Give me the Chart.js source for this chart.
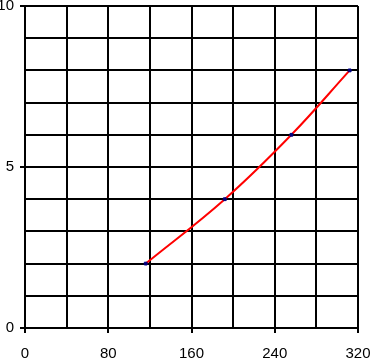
<!DOCTYPE html>
<html>
<head>
<meta charset="utf-8">
<script src="https://cdn.jsdelivr.net/npm/chart.js@4/dist/chart.umd.min.js"></script>
<style>
  html, body { margin: 0; padding: 0; background: #fff; }
  #wrap { width: 370px; height: 362px; }
</style>
</head>
<body>
<div id="wrap"><canvas id="chart"></canvas></div>
<script>
// data
var xValues = [116, 192, 256, 312];
var yValues = [2, 4, 6, 8];
var xLabelTicks = [0, 80, 160, 240, 320];
var yLabelTicks = [0, 5, 10];

var points = xValues.map(function(x, i) { return { x: x, y: yValues[i] }; });

var labelFont = { family: "'Liberation Sans Narrow', 'Liberation Sans', sans-serif", size: 15 };

function tickMark(list) {
  return function(ctx) {
    return list.indexOf(ctx.tick.value) >= 0 ? '#000' : 'rgba(0,0,0,0)';
  };
}

// fixed axis sizes, no extra room for overhanging labels
function fixSize(w, h) {
  return function(scale) {
    if (w) scale.width = w;
    if (h) scale.height = h;
    scale.paddingLeft = 0;
    scale.paddingRight = 0;
    scale.paddingTop = 0;
    scale.paddingBottom = 0;
  };
}

new Chart(document.getElementById('chart'), {
  type: 'scatter',
  data: {
    datasets: [{
      data: points,
      showLine: true,
      borderColor: '#ff0000',
      borderWidth: 2,
      tension: 0.4,
      pointStyle: 'rect',
      pointRadius: 2,
      pointBackgroundColor: '#000080',
      pointBorderColor: '#000080',
      pointBorderWidth: 1
    }]
  },
  options: {
    responsive: true,
    maintainAspectRatio: false,
    animation: false,
    layout: { padding: { top: 6, right: 12, left: 0, bottom: 0 } },
    plugins: { legend: { display: false }, tooltip: { enabled: false } },
    scales: {
      x: {
        type: 'linear',
        min: 0,
        max: 320,
        afterFit: fixSize(0, 34),
        ticks: {
          stepSize: 40,
          autoSkip: false,
          maxRotation: 0,
          padding: 12,
          color: '#000',
          font: labelFont,
          callback: function(v) { return xLabelTicks.indexOf(v) >= 0 ? v : ''; }
        },
        grid: { color: '#000', lineWidth: 2, tickLength: 5, tickColor: tickMark(xLabelTicks) },
        border: { color: '#000', width: 2 }
      },
      y: {
        type: 'linear',
        min: 0,
        max: 10,
        afterFit: fixSize(25, 0),
        ticks: {
          stepSize: 1,
          autoSkip: false,
          padding: 6,
          color: '#000',
          font: labelFont,
          callback: function(v) { return yLabelTicks.indexOf(v) >= 0 ? v : ''; }
        },
        grid: { color: '#000', lineWidth: 2, tickLength: 5, tickColor: tickMark(yLabelTicks) },
        border: { color: '#000', width: 2 }
      }
    }
  }
});
</script>
</body>
</html>
